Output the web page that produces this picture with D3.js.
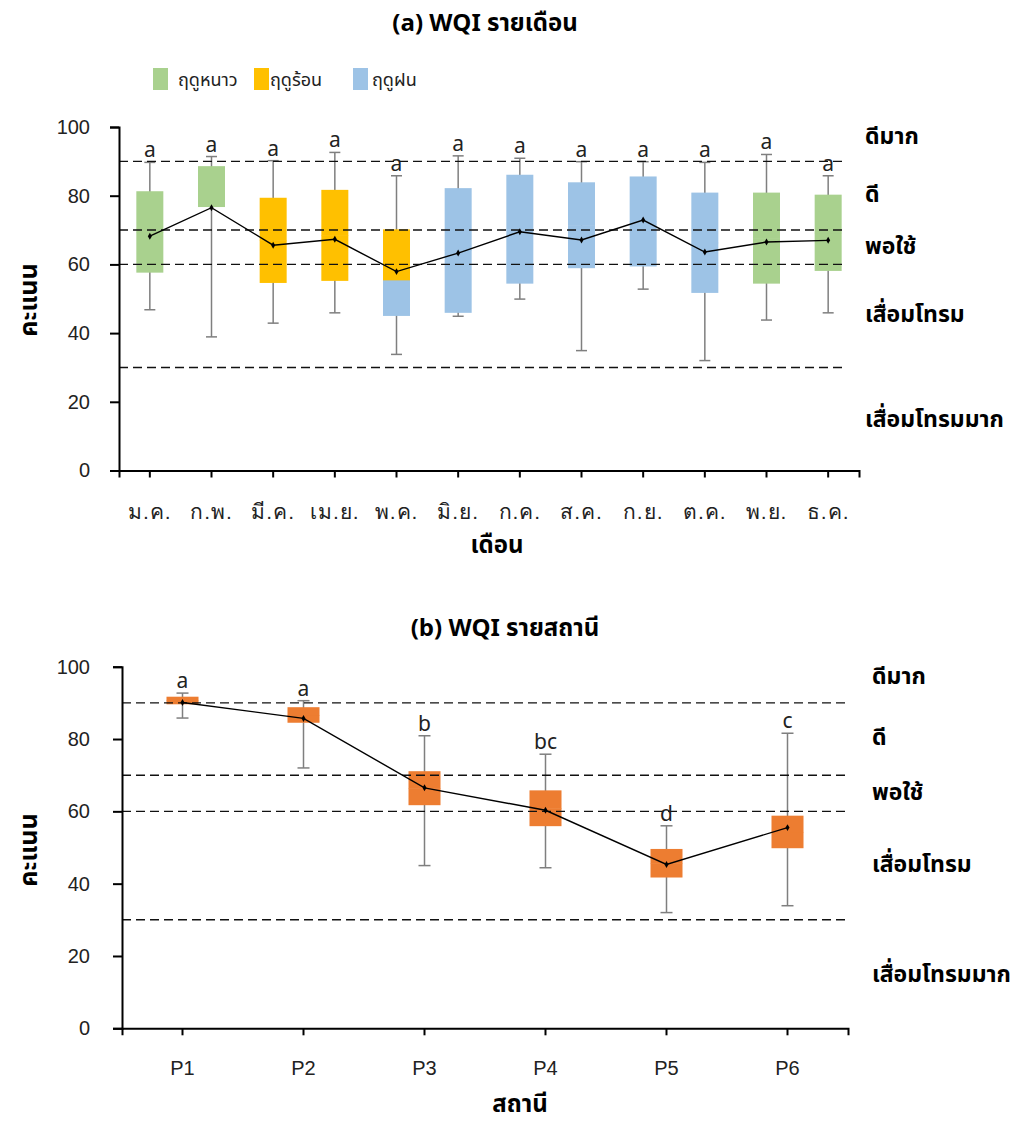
<!doctype html>
<html>
  <head>
    <meta charset="utf-8">
    <title>WQI box plots</title>
    <script src="https://cdnjs.cloudflare.com/ajax/libs/d3/7.8.5/d3.min.js"></script>
    <style>
      body { margin: 0; background: #fff; }
      svg { display: block; font-family: 'Noto Sans Thai', 'Leelawadee UI', Tahoma, 'Noto Sans', 'DejaVu Sans', sans-serif; }
    </style>
  </head>
  <body>
    <div id="my-svg-chart"></div>

    <script>
      // Step 1. data

      // (a) monthly WQI
      const months = ['ม.ค.', 'ก.พ.', 'มี.ค.', 'เม.ย.', 'พ.ค.', 'มิ.ย.', 'ก.ค.', 'ส.ค.', 'ก.ย.', 'ต.ค.', 'พ.ย.', 'ธ.ค.'];
      const monthMax  = [89.7, 91.4, 90.2, 92.6, 85.8, 91.6, 90.9, 89.9, 89.9, 89.7, 92.0, 85.8];
      const monthQ3   = [81.3, 88.6, 79.4, 81.7, 70.2, 82.2, 86.1, 83.9, 85.6, 80.9, 80.9, 80.3];
      const monthQ1   = [57.6, 76.7, 54.6, 55.2, 45.0, 45.9, 54.4, 58.9, 59.4, 51.7, 54.4, 58.1];
      const monthMin  = [46.8, 38.9, 42.9, 45.9, 33.8, 44.9, 49.9, 34.9, 52.8, 32.0, 43.8, 45.9];
      const monthMean = [68.2, 76.5, 65.6, 67.3, 57.9, 63.3, 69.5, 67.1, 72.9, 63.6, 66.5, 67.0];
      // box is split in two parts; only May shows two seasons
      const monthSplit    = [null, null, null, null, 55.5, null, null, null, null, null, null, null];
      const monthSeasonHi = ['cool', 'cool', 'hot', 'hot', 'hot', 'rain', 'rain', 'rain', 'rain', 'rain', 'cool', 'cool'];
      const monthSeasonLo = ['cool', 'cool', 'hot', 'hot', 'rain', 'rain', 'rain', 'rain', 'rain', 'rain', 'cool', 'cool'];
      const monthLetters  = ['a', 'a', 'a', 'a', 'a', 'a', 'a', 'a', 'a', 'a', 'a', 'a'];

      // (b) WQI by station
      const stations = ['P1', 'P2', 'P3', 'P4', 'P5', 'P6'];
      const stationMax  = [92.7, 90.6, 80.9, 75.8, 56.0, 81.6];
      const stationQ3   = [91.7, 88.8, 71.1, 65.8, 49.6, 58.8];
      const stationQ1   = [89.6, 84.5, 61.7, 55.9, 41.7, 49.8];
      const stationMin  = [85.8, 72.0, 45.0, 44.4, 32.0, 33.9];
      const stationMean = [90.1, 85.7, 66.5, 60.3, 45.3, 55.5];
      const stationLetters = ['a', 'a', 'b', 'bc', 'd', 'c'];

      // legend / seasons
      const seasons = ['cool', 'hot', 'rain'];
      const seasonNames = ['ฤดูหนาว', 'ฤดูร้อน', 'ฤดูฝน'];
      const seasonColors = ['#A9D18E', '#FFC000', '#9DC3E6'];

      // quality classes: limits drawn as dashed lines, names on the right
      const classLimits = [90, 70, 60, 30];
      const classNames = ['ดีมาก', 'ดี', 'พอใช้', 'เสื่อมโทรม', 'เสื่อมโทรมมาก'];
      const classLabelAt = [97.5, 80.5, 65.5, 45.5, 15];

      const yTicks = [0, 20, 40, 60, 80, 100];

      // Step 2. svg container
      const svg = d3.select('#my-svg-chart')
        .append('svg')
        .attr('width', 1017)
        .attr('height', 1124);

      const seasonColor = d3.scaleOrdinal().domain(seasons).range(seasonColors);

      // Step 3. one panel = axes, dashed class lines, whiskers, boxes, mean line
      function drawPanel(p) {
        const x = d3.scaleBand().domain(p.cats).range([p.left, p.right]);
        const y = d3.scaleLinear().domain([0, 100]).range([p.bottom, p.top]);
        const g = svg.append('g');
        const idx = d3.range(p.cats.length);

        // whiskers
        g.selectAll('.whisker')
          .data(idx)
          .join('line')
          .attr('x1', i => x(p.cats[i]) + x.bandwidth() / 2)
          .attr('x2', i => x(p.cats[i]) + x.bandwidth() / 2)
          .attr('y1', i => y(p.max[i]))
          .attr('y2', i => y(p.min[i]))
          .attr('stroke', '#7f7f7f')
          .attr('stroke-width', 1.5);

        ['max', 'min'].forEach(k => {
          g.selectAll('.cap-' + k)
            .data(idx)
            .join('line')
            .attr('x1', i => x(p.cats[i]) + x.bandwidth() / 2 - p.cap / 2)
            .attr('x2', i => x(p.cats[i]) + x.bandwidth() / 2 + p.cap / 2)
            .attr('y1', i => y(p[k][i]))
            .attr('y2', i => y(p[k][i]))
            .attr('stroke', '#7f7f7f')
            .attr('stroke-width', 1.5);
        });

        // boxes, lower and upper part
        const bx = i => x(p.cats[i]) + (x.bandwidth() - p.boxW) / 2;
        const mid = i => (p.split && p.split[i] != null) ? p.split[i] : (p.q1[i] + p.q3[i]) / 2;

        g.selectAll('.box-lo')
          .data(idx)
          .join('rect')
          .attr('x', bx)
          .attr('width', p.boxW)
          .attr('y', i => y(mid(i)))
          .attr('height', i => y(p.q1[i]) - y(mid(i)))
          .attr('fill', i => p.colorLo(i));

        g.selectAll('.box-hi')
          .data(idx)
          .join('rect')
          .attr('x', bx)
          .attr('width', p.boxW)
          .attr('y', i => y(p.q3[i]))
          .attr('height', i => y(mid(i)) - y(p.q3[i]) + 0.5)
          .attr('fill', i => p.colorHi(i));

        // dashed class limits
        g.selectAll('.limit')
          .data(classLimits)
          .join('line')
          .attr('x1', p.left)
          .attr('x2', p.dashEnd)
          .attr('y1', d => y(d))
          .attr('y2', d => y(d))
          .attr('stroke', '#111')
          .attr('stroke-width', 1.4)
          .attr('stroke-dasharray', '9,5');

        // mean line + small diamond markers
        const line = d3.line()
          .x(i => x(p.cats[i]) + x.bandwidth() / 2)
          .y(i => y(p.mean[i]));

        g.append('path')
          .datum(idx)
          .attr('d', line)
          .attr('fill', 'none')
          .attr('stroke', '#000')
          .attr('stroke-width', 1.4);

        g.selectAll('.marker')
          .data(idx)
          .join('path')
          .attr('d', d3.symbol(d3.symbolDiamond, 14))
          .attr('transform', i => `translate(${x(p.cats[i]) + x.bandwidth() / 2},${y(p.mean[i])})`)
          .attr('fill', '#000');

        // letters above the whiskers
        g.selectAll('.letter')
          .data(idx)
          .join('text')
          .attr('x', i => x(p.cats[i]) + x.bandwidth() / 2)
          .attr('y', i => y(p.max[i]) - 5)
          .attr('text-anchor', 'middle')
          .style('font-size', '21px')
          .style('fill', '#222')
          .text(i => p.letters[i]);

        // axes
        const yAxis = g.append('g')
          .attr('transform', `translate(${p.left},0)`)
          .call(d3.axisLeft(y).tickValues(yTicks).tickSize(9).tickPadding(20));
        const xAxis = g.append('g')
          .attr('transform', `translate(0,${p.bottom})`)
          .call(d3.axisBottom(x).tickSize(7).tickSizeOuter(7));

        [yAxis, xAxis].forEach(a => {
          a.selectAll('path, line').attr('stroke', '#000').attr('stroke-width', 2);
          a.selectAll('text').style('fill', '#222').style('font-family', null);
        });
        yAxis.selectAll('text').attr('x', -(p.left - 90)).style('font-size', '20px');
        xAxis.selectAll('text').attr('y', p.xLabelOff).attr('dy', '0.35em')
          .style('font-size', p.xFont).style('letter-spacing', p.xSpacing);

        // titles
        g.append('text')
          .attr('x', p.titleX).attr('y', p.titleY)
          .attr('text-anchor', 'middle')
          .style('font-size', '24px').style('font-weight', 'bold')
          .text(p.title);

        g.append('text')
          .attr('x', p.xTitleX).attr('y', p.xTitleY)
          .attr('text-anchor', 'middle')
          .style('font-size', '24px').style('font-weight', 'bold')
          .text(p.xTitle);

        g.append('text')
          .attr('transform', `translate(28,${p.yTitleY}) rotate(-90)`)
          .attr('text-anchor', 'middle')
          .attr('dy', '0.35em')
          .style('font-size', '25px').style('font-weight', 'bold')
          .text('คะแนน');

        // class names on the right
        g.selectAll('.cls')
          .data(classNames)
          .join('text')
          .attr('x', p.classX)
          .attr('y', (d, i) => y(classLabelAt[i]))
          .attr('dy', '0.35em')
          .style('font-size', '23px').style('font-weight', 'bold')
          .text(d => d);
      }

      drawPanel({
        cats: months, max: monthMax, q3: monthQ3, q1: monthQ1, min: monthMin, mean: monthMean,
        split: monthSplit, letters: monthLetters,
        colorHi: i => seasonColor(monthSeasonHi[i]),
        colorLo: i => seasonColor(monthSeasonLo[i]),
        left: 119, right: 859, top: 127, bottom: 470.5, dashEnd: 845,
        boxW: 27, cap: 11, xLabelOff: 41, xFont: '21px', xSpacing: '1px',
        title: '(a) WQI รายเดือน', titleX: 485, titleY: 31,
        xTitle: 'เดือน', xTitleX: 497, xTitleY: 553, yTitleY: 300, classX: 865
      });

      drawPanel({
        cats: stations, max: stationMax, q3: stationQ3, q1: stationQ1, min: stationMin, mean: stationMean,
        split: null, letters: stationLetters,
        colorHi: () => '#ED7D31',
        colorLo: () => '#ED7D31',
        left: 122, right: 848, top: 666.7, bottom: 1028.3, dashEnd: 848,
        boxW: 32, cap: 12, xLabelOff: 40, xFont: '20px', xSpacing: '0px',
        title: '(b) WQI รายสถานี', titleX: 505, titleY: 636,
        xTitle: 'สถานี', xTitleX: 520, xTitleY: 1112, yTitleY: 850, classX: 872
      });

      // Step 4. legend for the seasons
      const legend = svg.append('g')
        .selectAll('g')
        .data(seasons)
        .join('g')
        .attr('transform', (d, i) => `translate(${[153, 254, 353][i]},68)`);

      legend.append('rect')
        .attr('width', 15).attr('height', 22)
        .attr('fill', d => seasonColor(d));

      legend.append('text')
        .attr('x', (d, i) => [25, 16, 19][i])
        .attr('y', 12)
        .attr('dy', '0.35em')
        .style('font-size', '18px')
        .style('fill', '#222')
        .text((d, i) => seasonNames[i]);
    </script>
  </body>
</html>
